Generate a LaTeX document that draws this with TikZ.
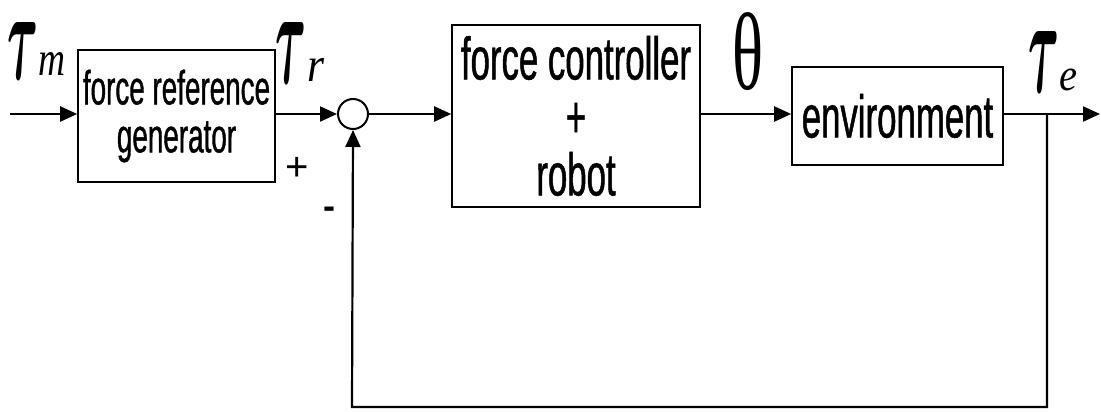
\documentclass[tikz,border=0pt]{standalone}
\usepackage{bm}
\usepackage{fontspec}
\setmainfont{Liberation Sans}
\newfontfamily\tserif{Liberation Serif}
\newfontfamily\narrowsf[FakeStretch=0.58,FakeBold=0.8]{Liberation Sans}
\usetikzlibrary{arrows.meta}
\newcommand{\fitglyph}[3]{\resizebox*{#1}{#2}{#3}}
\tikzset{
  blk/.style={draw, line width=1.6pt, inner sep=0pt, align=center},
  wire/.style={line width=2.2pt},
  arr/.style={wire, -{Triangle[length=17pt,width=15pt]}},
  lbl/.style={inner sep=1pt, anchor=north west},
}
\begin{document}
\begin{tikzpicture}[x=1pt,y=-1pt]
\useasboundingbox (0,0) rectangle (1101,412);
% blocks
\node[blk, minimum width=197, minimum height=132,
      font=\narrowsf\fontsize{48}{48}\selectfont] (b1) at (176.5,116) {force reference\\generator};
\node[circle, draw, line width=2pt, minimum size=30, inner sep=0pt] (s) at (353,114) {};
\node[blk, minimum width=248, minimum height=182,
      font=\narrowsf\fontsize{60}{58}\selectfont] (b2) at (576,116) {force controller\\+\\robot};
\node[blk, minimum width=211, minimum height=98,
      font=\narrowsf\fontsize{60}{60}\selectfont] (b3) at (897.5,116) {environment};
% free ends
\coordinate (in) at (10,114);
\coordinate (out) at (1100,114);
\coordinate (br) at (1047,114);
\coordinate (fb) at (352,407);
% connectors
\draw[arr] (in) -- (in -| b1.west);
\draw[arr] (b1.east |- s) -- (s.west);
\draw[arr] (s.east) -- (s -| b2.west);
\draw[arr] (b2.east |- s) -- (s -| b3.west);
\draw[arr] (b3.east |- s) -- (out);
\draw[arr] (br) -- (br |- fb) -- (fb) -- (s.south);
% labels
\node[lbl] (taum) at (6,21) {\fitglyph{31pt}{57pt}{$\bm{\tau}$}};
\node[lbl] (taumsub) at (37,51) {\fitglyph{27pt}{23pt}{\tserif\itshape m}};
\node[lbl] (taur) at (274,21) {\fitglyph{31pt}{61pt}{$\bm{\tau}$}};
\node[lbl] (taursub) at (306,57) {\fitglyph{17pt}{23pt}{\tserif\itshape r}};
\node[lbl] (theta) at (731,11) {\fitglyph{31pt}{78pt}{\tserif θ}};
\node[lbl] (taue) at (1027,30) {\fitglyph{31pt}{61pt}{$\bm{\tau}$}};
\node[lbl] (tauesub) at (1058,68) {\fitglyph{18pt}{22pt}{\tserif\itshape e}};
\node[font=\fontsize{40}{40}\selectfont, inner sep=0pt] (plus) at (297,169) {+};
\node[font=\bfseries\fontsize{36}{36}\selectfont, inner sep=0pt] (minus) at (329,213) {-};
\end{tikzpicture}
\end{document}
